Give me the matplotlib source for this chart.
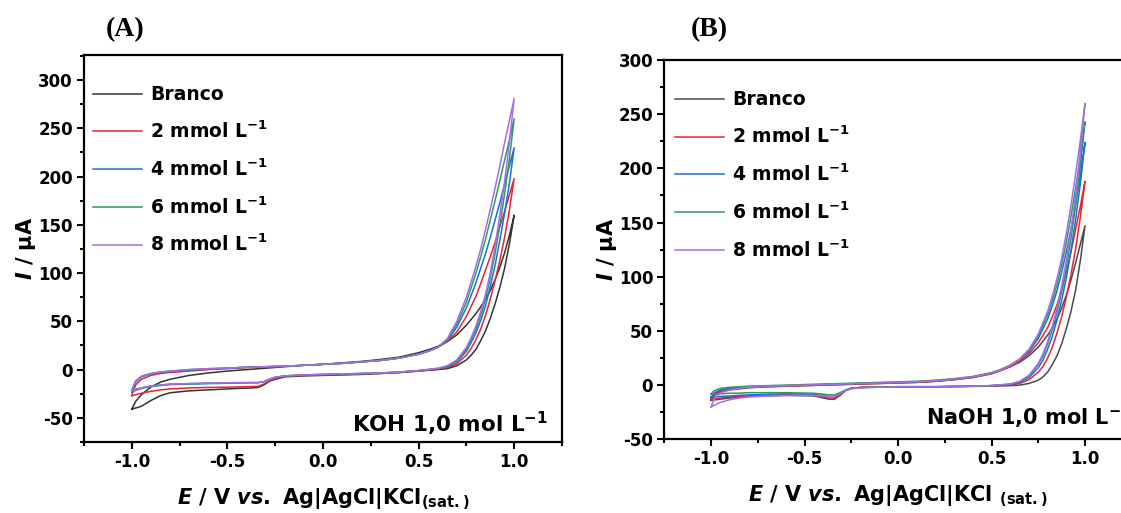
import matplotlib
matplotlib.use("Agg")
import matplotlib.pyplot as plt
from matplotlib.ticker import MultipleLocator

plt.rcParams['font.family'] = ['DejaVu Sans']
plt.rcParams['font.weight'] = 'bold'
plt.rcParams['axes.labelweight'] = 'bold'
plt.rcParams['mathtext.fontset'] = 'custom'
plt.rcParams['mathtext.rm'] = 'DejaVu Sans:bold'
plt.rcParams['mathtext.it'] = 'DejaVu Sans:italic:bold'
plt.rcParams['mathtext.bf'] = 'DejaVu Sans:bold'
plt.rcParams['mathtext.default'] = 'rm'
plt.rcParams['axes.unicode_minus'] = False

# potenciais (V) - varredura de ida e de volta
E_ida = [-1.0, -0.98, -0.95, -0.9, -0.85, -0.8, -0.7, -0.6, -0.5, -0.4, -0.3, -0.2, -0.1,
         0.0, 0.1, 0.2, 0.3, 0.4, 0.5, 0.55, 0.6, 0.65, 0.7, 0.75, 0.8,
         0.825, 0.85, 0.875, 0.9, 0.925, 0.95, 0.975, 1.0]
E_volta = [1.0, 0.975, 0.95, 0.925, 0.9, 0.875, 0.85, 0.825, 0.8, 0.775, 0.75, 0.7, 0.65, 0.6,
           0.5, 0.4, 0.3, 0.2, 0.1, 0.0, -0.1, -0.2, -0.25, -0.28, -0.31, -0.34, -0.37,
           -0.45, -0.6, -0.7, -0.8, -0.85, -0.9, -0.95, -1.0]

rotulos = ["Branco", "2 mmol L$^{-1}$", "4 mmol L$^{-1}$", "6 mmol L$^{-1}$", "8 mmol L$^{-1}$"]
cores = ["#3a3a3a", "#e8262a", "#1f6be0", "#2e9a5e", "#a46ee8"]

# (A) KOH 1,0 mol/L - corrente em uA
koh_ida_branco = [-41, -33, -26, -18, -13, -10, -6, -3.5, -1.5, 0, 1.5, 3, 4.5,
                  5.5, 7, 8.5, 10.5, 13, 17.5, 20.5, 24, 29, 36, 46, 58,
                  65, 73, 82, 93, 106, 121, 139, 160]
koh_ida_2 = [-27, -16, -10, -6, -4, -3, -1.5, 0, 1, 2, 3, 3.5, 4.5,
             5.5, 6.5, 8, 9.5, 12, 16, 19, 23, 29, 39, 55, 76,
             89, 103, 117, 132, 148, 164, 181, 198]
koh_ida_4 = [-23, -13, -7.5, -4.5, -3, -2, -0.5, 0.5, 1.5, 2.5, 3, 3.5, 4.5,
             5.5, 6.5, 8, 9.5, 12, 16, 19, 23, 30, 44, 64, 90,
             105, 120, 137, 155, 173, 192, 211, 230]
koh_ida_6 = [-21, -12, -7, -4, -2.5, -1.5, 0, 1, 1.5, 2.5, 3, 3.5, 4.5,
             5.5, 6.5, 8, 9.5, 12, 16, 19, 23, 31, 47, 70, 100,
             117, 135, 155, 175, 196, 217, 238, 260]
koh_ida_8 = [-22, -12, -7, -4, -2.5, -1.5, 0, 1, 1.5, 2.5, 3, 3.5, 4.5,
             5.5, 6.5, 8, 9.5, 12, 16, 19, 23, 32, 50, 75, 107,
             125, 145, 166, 188, 211, 235, 258, 281]

koh_volta_branco = [160, 130, 105, 85, 68, 53, 40, 30, 21, 15, 10, 4, 1, 0,
                    -1.5, -3, -4, -5, -5.5, -6, -6.5, -7.5, -10, -12, -16, -18.5, -19,
                    -19.5, -21, -22, -24, -27, -32, -38, -41]
koh_volta_2 = [198, 165, 137, 113, 92, 73, 56, 42, 31, 22, 15, 6, 2, 0.5,
               -1.5, -3, -4, -4.5, -5, -5.5, -6, -7, -9, -11.5, -15, -17.5, -17.5,
               -18, -18.5, -19, -20, -21, -22.5, -24.5, -27]
koh_volta_4 = [230, 193, 162, 134, 108, 86, 66, 51, 38, 28, 19, 8, 3, 1,
               -1, -2.5, -3.5, -4, -4.5, -5, -5.5, -6.5, -8, -10, -12.5, -13.5, -13.5,
               -14, -14.5, -15, -15.5, -16.5, -17.5, -19.5, -23]
koh_volta_6 = [260, 218, 182, 150, 120, 95, 73, 56, 42, 31, 21, 9, 3.5, 1,
               -1, -2.5, -3.5, -4, -4.5, -5, -5.5, -6.5, -8, -10, -12.5, -13.5, -13.5,
               -13.5, -14, -14.5, -15, -16, -17, -19, -21]
koh_volta_8 = [281, 235, 195, 160, 128, 100, 78, 60, 45, 33, 23, 10, 4, 1.5,
               -1, -2.5, -3.5, -4, -4.5, -5, -5.5, -6.5, -8, -10, -12.5, -13.5, -13.5,
               -13.5, -14, -14.5, -15, -16, -17, -19, -22]

# (B) NaOH 1,0 mol/L - corrente em uA
naoh_ida_branco = [-14, -9, -6, -4.5, -3.5, -2.5, -1.5, -1, -0.5, 0, 0.5, 1, 1.5,
                   2, 2.5, 3.5, 5, 7, 10.5, 13.5, 17, 21, 27, 35, 46,
                   53, 61, 71, 83, 97, 113, 130, 147]
naoh_ida_2 = [-13, -8, -5, -3.5, -2.5, -2, -1.5, -1, -0.5, 0, 0.5, 1, 1.5,
              2, 2.5, 3.5, 5, 7, 10.5, 13.5, 17, 22, 29, 39, 53,
              63, 74, 88, 104, 123, 144, 165, 188]
naoh_ida_4 = [-11, -7, -4.5, -3, -2, -1.5, -1, -0.5, 0, 0.5, 1, 1.5, 2,
              2.5, 3, 4, 5.5, 7.5, 11, 14, 18, 23.5, 31, 43, 61,
              73, 87, 104, 123, 144, 168, 195, 224]
naoh_ida_6 = [-8, -5, -3, -2, -1.5, -1, -0.5, 0, 0.5, 1, 1.5, 2, 2.5,
              3, 3.5, 4.5, 6, 8, 11.5, 14.5, 18.5, 24, 32, 45, 65,
              78, 93, 111, 132, 156, 182, 211, 243]
naoh_ida_8 = [-20, -12, -7, -4.5, -3, -2, -1, -0.5, 0, 0.5, 1, 1.5, 2,
              2.5, 3, 4, 5.5, 7.5, 11, 14, 18, 24, 33, 47, 68,
              82, 98, 117, 140, 166, 195, 226, 260]

naoh_volta_branco = [147, 115, 88, 68, 52, 38, 27, 19, 12, 7.5, 4.5, 1.5, 0, -0.5,
                     -1, -1.2, -1.5, -1.5, -1.5, -1.5, -1.8, -2.2, -3, -5, -9.5, -13, -13,
                     -10, -9.5, -10, -10.5, -11, -12, -13, -14]
naoh_volta_2 = [188, 155, 126, 102, 81, 63, 48, 35, 25, 17, 12, 5, 1.5, 0,
                -0.5, -1, -1.2, -1.5, -1.5, -1.5, -1.8, -2.2, -3, -5, -9, -12, -12,
                -9.5, -9, -9.5, -10, -10.5, -11, -12, -13]
naoh_volta_4 = [224, 186, 153, 124, 99, 78, 60, 45, 33, 23, 16, 7, 2.5, 0.5,
                -0.5, -1, -1.2, -1.5, -1.5, -1.5, -1.8, -2.2, -3, -4.5, -8, -10.5, -10.5,
                -8.5, -8, -8.5, -9, -9.5, -10, -10.5, -11]
naoh_volta_6 = [243, 202, 166, 135, 108, 86, 67, 51, 38, 27, 19, 8, 3, 1,
                -0.5, -1, -1.2, -1.5, -1.5, -1.5, -1.8, -2.2, -3, -4.5, -7, -9, -9,
                -7.5, -7, -7, -7, -7.5, -7.5, -8, -8]
naoh_volta_8 = [260, 215, 176, 143, 115, 91, 71, 54, 40, 29, 20, 9, 3.5, 1,
                -0.5, -1, -1.5, -1.5, -1.5, -1.5, -2, -2.5, -3.5, -5, -8, -10.5, -10.5,
                -9.5, -9.5, -10, -11, -12, -13.5, -16, -20]

koh_ida = [koh_ida_branco, koh_ida_2, koh_ida_4, koh_ida_6, koh_ida_8]
koh_volta = [koh_volta_branco, koh_volta_2, koh_volta_4, koh_volta_6, koh_volta_8]
naoh_ida = [naoh_ida_branco, naoh_ida_2, naoh_ida_4, naoh_ida_6, naoh_ida_8]
naoh_volta = [naoh_volta_branco, naoh_volta_2, naoh_volta_4, naoh_volta_6, naoh_volta_8]


def painel(ax, ida, volta, ylim, yticks, eletrolito, xlabel, pos_txt, leg_anchor, cor_branco):
    for i in range(5):
        c = cor_branco if i == 0 else cores[i]
        ax.plot(E_ida + E_volta, ida[i] + volta[i], color=c, lw=1.1, label=rotulos[i])
    ax.set_xlim(-1.25, 1.25)
    ax.set_ylim(*ylim)
    ax.set_yticks(yticks)
    ax.set_xticks([-1.0, -0.5, 0.0, 0.5, 1.0])
    ax.xaxis.set_minor_locator(MultipleLocator(0.25))
    ax.yaxis.set_minor_locator(MultipleLocator(25))
    ax.tick_params(which='major', direction='out', length=5, width=1.5, labelsize=12,
                   top=False, right=False, pad=3)
    ax.tick_params(which='minor', direction='out', length=3, width=1.5, top=False, right=False)
    for s in ax.spines.values():
        s.set_linewidth(1.6)
    ax.set_xlabel(xlabel, fontsize=15, labelpad=11)
    ax.set_ylabel(r"$\mathit{I}$ / μA", fontsize=15, labelpad=0)
    ax.legend(loc='upper left', bbox_to_anchor=leg_anchor, frameon=False, fontsize=13.5,
              handlelength=2.6, handletextpad=0.45, labelspacing=0.87, borderpad=0,
              borderaxespad=0)
    ax.text(pos_txt[0], pos_txt[1], eletrolito, transform=ax.transAxes, fontsize=pos_txt[3],
            ha=pos_txt[2], va='baseline')


fig = plt.figure(figsize=(11.21, 5.13), dpi=100)
axA = fig.add_axes([0.0749, 0.1384, 0.4264, 0.7544])
axB = fig.add_axes([0.5926, 0.1437, 0.4170, 0.7394])

painel(axA, koh_ida, koh_volta, (-75, 326), [-50, 0, 50, 100, 150, 200, 250, 300],
       "KOH 1,0 mol L$^{-1}$", r"$\mathit{E}$ / V $\mathit{vs.}$ Ag|AgCl|KCl$_{\mathrm{(sat.)}}$",
       (0.971, 0.026, 'right', 15.5), (0.019, 0.922), "#333333")
painel(axB, naoh_ida, naoh_volta, (-50, 300), [-50, 0, 50, 100, 150, 200, 250, 300],
       "NaOH 1,0 mol L$^{-1}$", r"$\mathit{E}$ / V $\mathit{vs.}$ Ag|AgCl|KCl $_{\mathrm{(sat.)}}$",
       (0.56, 0.038, 'left', 15), (0.023, 0.92), "#4a4a4a")

fig.text(0.112, 0.942, "(A)", family='Liberation Serif', fontweight='bold', fontsize=20,
         ha='center', va='center')
fig.text(0.633, 0.942, "(B)", family='Liberation Serif', fontweight='bold', fontsize=20,
         ha='center', va='center')

fig.savefig("out.png", dpi=100)
